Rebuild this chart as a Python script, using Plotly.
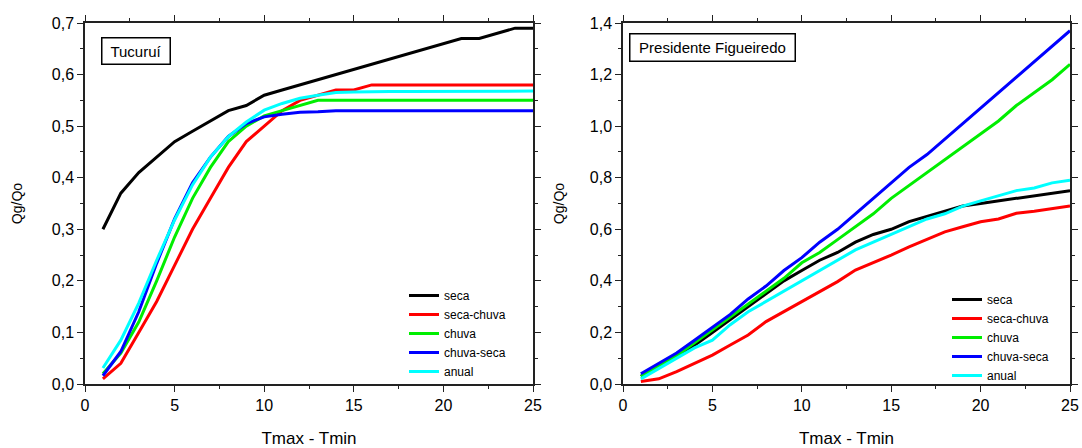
import plotly.graph_objects as go

# ---------------- data ----------------
x_vals = list(range(1, 26))
series_names = ["seca", "seca-chuva", "chuva", "chuva-seca", "anual"]
series_colors = ["#000000", "#FF0000", "#00EE00", "#0000FF", "#00FFFF"]

# Tucuruí
tuc_seca = [0.30, 0.37, 0.41, 0.44, 0.47, 0.49, 0.51, 0.53, 0.54, 0.56, 0.57, 0.58, 0.59,
            0.60, 0.61, 0.62, 0.63, 0.64, 0.65, 0.66, 0.67, 0.67, 0.68, 0.69, 0.69]
tuc_seca_chuva = [0.01, 0.04, 0.10, 0.16, 0.23, 0.30, 0.36, 0.42, 0.47, 0.50, 0.53, 0.55, 0.56,
                  0.57, 0.57, 0.58, 0.58, 0.58, 0.58, 0.58, 0.58, 0.58, 0.58, 0.58, 0.58]
tuc_chuva = [0.02, 0.06, 0.12, 0.20, 0.285, 0.36, 0.42, 0.47, 0.50, 0.52, 0.53, 0.54, 0.55,
             0.55, 0.55, 0.55, 0.55, 0.55, 0.55, 0.55, 0.55, 0.55, 0.55, 0.55, 0.55]
tuc_chuva_seca = [0.016, 0.063, 0.14, 0.234, 0.32, 0.39, 0.44, 0.48, 0.505, 0.518, 0.523, 0.527, 0.528,
                  0.53, 0.53, 0.53, 0.53, 0.53, 0.53, 0.53, 0.53, 0.53, 0.53, 0.53, 0.53]
tuc_anual = [0.031, 0.085, 0.157, 0.24, 0.318, 0.386, 0.44, 0.48, 0.508, 0.531, 0.544, 0.554, 0.56,
             0.565, 0.566, 0.567, 0.567, 0.567, 0.567, 0.567, 0.568, 0.568, 0.568, 0.568, 0.568]

# Presidente Figueiredo
pf_seca = [0.03, 0.07, 0.11, 0.15, 0.20, 0.25, 0.30, 0.35, 0.40, 0.44, 0.48, 0.51, 0.55,
           0.58, 0.60, 0.63, 0.65, 0.67, 0.69, 0.70, 0.71, 0.72, 0.73, 0.74, 0.75]
pf_seca_chuva = [0.01, 0.02, 0.048, 0.08, 0.112, 0.151, 0.19, 0.242, 0.28, 0.319, 0.358, 0.397, 0.442,
                 0.47, 0.50, 0.532, 0.561, 0.59, 0.61, 0.629, 0.64, 0.662, 0.67, 0.681, 0.69]
pf_chuva = [0.03, 0.07, 0.11, 0.16, 0.21, 0.26, 0.31, 0.36, 0.41, 0.47, 0.51, 0.56, 0.61,
            0.66, 0.72, 0.77, 0.82, 0.87, 0.92, 0.97, 1.02, 1.08, 1.13, 1.18, 1.24]
pf_chuva_seca = [0.04, 0.08, 0.12, 0.17, 0.22, 0.27, 0.33, 0.38, 0.44, 0.49, 0.55, 0.60, 0.66,
                 0.72, 0.78, 0.84, 0.89, 0.95, 1.01, 1.07, 1.13, 1.19, 1.25, 1.31, 1.37]
pf_anual = [0.02, 0.06, 0.10, 0.14, 0.17, 0.23, 0.28, 0.32, 0.36, 0.40, 0.44, 0.48, 0.52,
            0.55, 0.58, 0.61, 0.64, 0.66, 0.69, 0.71, 0.73, 0.75, 0.76, 0.78, 0.79]

panel_titles = ["Tucuruí", "Presidente Figueiredo"]
x_title = "Tmax - Tmin"
y_title = "Qg/Qo"

left_series = [tuc_seca, tuc_seca_chuva, tuc_chuva, tuc_chuva_seca, tuc_anual]
right_series = [pf_seca, pf_seca_chuva, pf_chuva, pf_chuva_seca, pf_anual]

# ---------------- figure ----------------
W, H = 1082, 448
ML, MR, MT, MB = 85, 12, 23, 64
PW = W - ML - MR
PH = H - MT - MB


def px_x(p):
    return (p - ML) / PW


def px_y(p):
    return (H - MB - p) / PH


fig = go.Figure()
FONT = "Arial, 'Liberation Sans', sans-serif"

for name, color, ys in zip(series_names, series_colors, left_series):
    fig.add_trace(go.Scatter(x=x_vals, y=ys, mode="lines", name=name,
                             line=dict(color=color, width=3),
                             xaxis="x", yaxis="y", legend="legend"))
for name, color, ys in zip(series_names, series_colors, right_series):
    fig.add_trace(go.Scatter(x=x_vals, y=ys, mode="lines", name=name,
                             line=dict(color=color, width=3),
                             xaxis="x2", yaxis="y2", legend="legend2"))

axis_common = dict(
    showline=True, linecolor="#222", linewidth=1.5, mirror="allticks",
    ticks="outside", ticklen=6, tickwidth=1.2, tickcolor="#222",
    showgrid=False, zeroline=False, automargin=False,
    tickfont=dict(family=FONT, size=16, color="#000"),
)

x_common = dict(axis_common, range=[0, 25], dtick=5, tick0=0,
                minor=dict(dtick=2.5, ticklen=3, tickcolor="#222", ticks="outside"))

title_font_x = dict(family=FONT, size=17, color="#000")
title_font_y = dict(family=FONT, size=14, color="#000")

fig.update_layout(
    width=W, height=H,
    margin=dict(l=ML, r=MR, t=MT, b=MB, autoexpand=False),
    paper_bgcolor="white", plot_bgcolor="white",
    separators=",.",
    xaxis=dict(x_common, domain=[0, px_x(533)], anchor="y",
               title=dict(text=x_title, font=title_font_x, standoff=22)),
    xaxis2=dict(x_common, domain=[px_x(623), 1.0], anchor="y2",
                title=dict(text=x_title, font=title_font_x, standoff=25)),
    yaxis=dict(axis_common, range=[0, 0.7], dtick=0.1, tick0=0, tickformat=".1f",
               minor=dict(dtick=0.05, ticklen=3, tickcolor="#222", ticks="outside"),
               domain=[0, 1], anchor="x",
               title=dict(text=y_title, font=title_font_y, standoff=26)),
    yaxis2=dict(axis_common, range=[0, 1.4], dtick=0.2, tick0=0, tickformat=".1f",
                minor=dict(dtick=0.1, ticklen=3, tickcolor="#222", ticks="outside"),
                domain=[0, 1], anchor="x2",
                title=dict(text=y_title, font=title_font_y, standoff=22)),
    legend=dict(x=px_x(404), y=px_y(281), xanchor="left", yanchor="top",
                bgcolor="rgba(0,0,0,0)", borderwidth=0,
                font=dict(family=FONT, size=12, color="#000"), itemwidth=30),
    legend2=dict(x=px_x(947), y=px_y(285), xanchor="left", yanchor="top",
                 bgcolor="rgba(0,0,0,0)", borderwidth=0,
                 font=dict(family=FONT, size=12, color="#000"), itemwidth=30),
    showlegend=True,
)

fig.add_annotation(text=panel_titles[0], xref="paper", yref="paper",
                   x=px_x(135.7), y=px_y(50.8), xanchor="center", yanchor="middle",
                   showarrow=False, font=dict(family=FONT, size=15, color="#000"),
                   bordercolor="#000", borderwidth=1.5, borderpad=0,
                   width=67, height=25, bgcolor="white")
fig.add_annotation(text=panel_titles[1], xref="paper", yref="paper",
                   x=px_x(712), y=px_y(47.2), xanchor="center", yanchor="middle",
                   showarrow=False, font=dict(family=FONT, size=15, color="#000"),
                   bordercolor="#000", borderwidth=1.5, borderpad=0,
                   width=164, height=26, bgcolor="white")

fig.write_html("out.html")
